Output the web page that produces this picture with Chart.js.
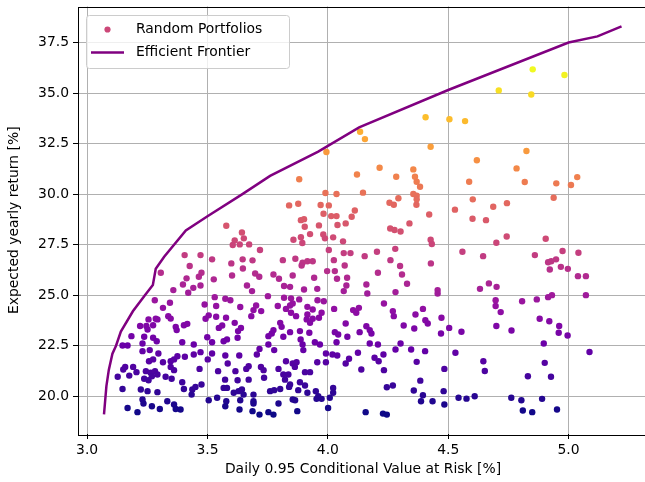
<!DOCTYPE html>
<html>
<head>
<meta charset="utf-8">
<script src="https://cdn.jsdelivr.net/npm/chart.js@4.4.1/dist/chart.umd.min.js"></script>
<style>
  html, body { margin:0; padding:0; background:#fff; overflow:hidden; }
  #wrap { width:652px; height:482px; }
</style>
</head>
<body>
<div id="wrap"><canvas id="frontierChart" width="652" height="482"></canvas></div>
<script>
// Random portfolios: daily 0.95 CVaR [%] and expected yearly return [%]
const riskPct = [
  4.851,4.983,4.710,4.845,4.406,4.505,4.570,4.134,4.154,4.427,4.825,3.994,
  3.578,3.643,3.613,3.651,3.605,3.634,3.673,3.718,3.405,3.471,
  4.215,4.121,3.881,4.284,4.355,4.362,4.369,4.383,3.990,4.036,4.146,4.355,4.369,4.369,4.368,4.293,4.256,4.274,3.839,3.877,
  3.970,4.004,4.112,3.982,4.014,4.036,4.099,3.888,3.901,3.904,3.963,4.040,4.074,4.339,4.421,4.528,4.259,4.277,4.302,3.926,
  3.981,3.988,4.022,3.888,3.857,3.894,4.063,4.427,4.432,4.004,4.066,4.094,4.204,4.280,4.153,
  4.619,4.784,4.587,4.818,4.949,5.010,5.036,4.602,4.744,4.687,4.938,4.601,4.657,4.743,4.700,4.905,4.559,4.645,4.860,4.975,5.041,
  3.306,3.519,3.426,3.475,3.464,3.413,3.526,3.398,3.441,3.471,3.420,3.358,3.530,3.281,3.344,3.315,3.488,3.536,3.337,3.347,
  3.255,3.285,3.292,3.492,3.505,3.536,3.274,3.246,3.220,3.251,3.368,3.372,3.402,3.416,3.184,3.237,3.274,3.289,3.499,3.519,
  3.395,3.443,3.147,3.168,3.230,3.547,
  3.599,3.646,3.687,3.647,3.602,3.698,3.715,3.774,3.797,3.813,
  3.865,3.895,3.891,3.915,3.937,3.854,3.943,3.997,4.025,4.029,
  4.070,4.038,4.080,4.077,4.066,3.664,3.685,3.818,3.843,3.901,
  3.956,3.751,3.574,3.595,3.818,3.847,3.881,3.854,3.957,3.983,
  3.636,3.691,3.702,3.723,3.682,3.792,3.826,3.843,3.847,3.868,
  3.915,3.937,3.915,3.912,3.937,3.926,3.974,3.963,4.026,3.577,
  3.613,3.561,3.639,3.627,3.802,3.808,3.774,3.843,3.884,3.923,
  3.581,3.625,3.567,3.753,3.767,3.815,3.887,3.895,3.753,3.946,
  3.967,4.074,4.029,4.043,4.081,4.132,4.036,4.105,4.129,4.118,
  4.260,4.300,4.308,4.208,4.428,4.329,4.160,4.164,4.281,4.456,
  4.456,4.632,4.669,4.701,4.697,4.697,4.718,4.233,4.270,4.274,
  4.364,4.395,4.405,4.415,4.472,4.315,4.359,4.504,4.470,4.555,
  4.700,4.160,4.174,4.181,4.208,4.302,4.174,
  4.915,4.928,4.948,4.922,4.968,4.997,5.039,5.072,4.807,4.868,
  4.915,4.931,5.072,4.880,4.920,4.961,4.959,4.996,4.763,4.897,
  3.230,3.260,3.296,3.257,3.274,3.315,3.347,3.361,3.375,3.406,
  3.443,3.471,3.519,3.501,3.544,3.158,3.150,3.191,3.205,3.175,
  3.127,3.244,3.264,3.282,3.237,3.255,3.269,3.292,3.326,3.351,
  3.361,3.347,3.395,3.402,3.437,3.434,3.450,3.475,3.467,3.147,
  3.223,3.251,3.292,3.230,3.234,3.269,3.302,3.333,3.361,3.368,
  3.388,3.168,3.209,3.505,3.540,
  3.574,3.632,3.705,3.716,3.777,3.898,3.992,4.019,
  4.039,4.074,4.088,4.125,4.139,3.584,3.671,3.661,3.722,3.733,
  3.616,3.795,3.826,3.854,3.870,3.863,3.956,3.992,3.905,3.926,
  3.815,3.836,3.822,3.573,3.625,3.671,3.735,3.843,3.839,3.884,
  3.905,3.877,3.802,3.760,3.777,3.567,3.581,3.609,3.629,3.643,
  3.650,3.691,3.915,3.950,3.960,3.953,3.974,4.022,4.022,4.008,
  3.854,3.864,3.636,3.691,3.578,3.574,3.795,3.633,3.687,3.691,
  3.716,3.753,3.774,3.873,4.001,
  4.281,4.346,4.404,4.194,4.211,4.231,4.233,4.369,4.484,4.530,
  4.646,4.652,4.384,4.245,4.270,4.357,4.395,4.387,4.435,4.481,
  4.484,4.543,4.576,4.610,4.157,4.229,4.245,
  5.087,4.901,4.831,4.927,4.762,4.804,4.890,4.810,4.849,4.952
];
const returnPct = [
  36.17,35.89,35.13,34.93,33.80,33.70,33.61,33.08,32.72,32.34,32.13,32.08,
  28.43,28.10,27.71,27.81,27.48,27.51,27.51,27.23,26.98,26.98,
  31.30,30.97,30.73,30.86,31.22,30.86,30.61,30.36,30.05,30.00,30.07,30.00,29.92,29.74,29.47,29.79,29.57,29.47,29.44,29.52,
  29.46,29.44,29.19,29.03,28.91,28.91,28.88,28.71,28.76,28.38,28.45,28.47,28.55,28.55,28.99,29.23,28.30,28.22,28.15,28.02,
  28.00,27.81,27.86,27.87,27.74,27.58,27.66,27.74,27.53,27.23,27.08,27.08,27.15,27.29,26.93,
  31.67,31.27,30.61,30.60,30.53,30.45,30.84,29.74,29.55,29.37,29.82,28.78,28.71,27.90,27.59,27.79,27.15,26.93,26.98,27.18,27.10,
  26.11,26.77,26.44,26.11,25.91,25.83,25.78,25.53,25.36,25.48,25.12,25.25,24.90,24.75,24.62,24.37,24.54,24.46,23.96,23.84,
  23.80,23.83,23.80,23.83,24.00,23.93,23.51,23.47,23.47,23.30,23.43,23.27,23.51,23.58,22.97,22.94,22.89,22.72,22.92,22.67,
  22.67,22.56,22.51,22.51,22.61,23.38,
  26.57,26.77,26.72,26.32,25.97,26.07,25.91,26.02,25.81,26.73,
  26.80,26.60,26.47,26.68,26.68,25.97,25.86,26.19,26.73,26.19,
  26.47,25.81,25.86,25.48,25.20,25.48,25.20,25.45,25.41,25.28,
  25.31,24.95,24.82,24.75,24.87,24.84,24.79,24.59,24.75,24.70,
  24.41,24.26,24.49,24.21,23.96,24.46,24.32,24.49,24.13,23.96,
  24.42,24.29,24.04,23.80,23.83,23.63,24.13,23.88,24.32,23.88,
  23.63,23.50,23.38,23.22,23.63,23.43,23.27,23.17,23.22,23.14,
  22.81,22.89,22.72,22.97,23.10,22.94,22.81,22.56,22.56,22.67,
  22.56,23.60,23.17,23.05,22.94,23.17,22.67,24.26,24.37,24.13,
  26.73,26.44,26.02,26.11,26.57,25.56,25.53,25.08,25.15,25.25,
  25.08,25.31,25.58,25.41,24.75,24.46,24.16,24.59,24.21,23.96,
  24.04,24.32,23.76,23.60,23.88,23.50,23.35,23.38,23.10,23.19,
  23.47,23.46,23.27,23.10,22.56,22.61,22.61,
  26.63,26.68,26.77,26.27,26.40,26.30,25.94,25.94,24.70,24.79,
  24.90,25.00,25.00,23.83,23.71,23.47,23.14,23.00,23.25,22.61,
  22.23,22.28,22.11,21.73,21.82,21.68,21.73,21.82,21.98,21.95,
  22.06,22.18,22.11,21.82,21.24,21.45,21.32,21.45,21.19,21.02,
  20.96,21.24,21.16,21.24,20.86,20.79,20.99,21.07,20.96,20.86,
  21.29,21.45,20.69,20.36,20.33,20.08,20.46,20.58,21.35,20.36,
  20.33,20.25,20.20,19.84,19.64,19.50,19.37,19.75,19.59,19.37,
  19.34,19.42,19.21,19.80,19.92,
  22.01,22.01,22.06,22.34,22.28,22.28,22.11,22.06,
  22.01,21.62,21.85,22.15,21.32,21.62,21.48,21.35,21.45,21.29,
  21.24,21.35,21.73,21.62,21.68,21.45,21.68,21.68,21.19,21.19,
  21.07,21.07,20.82,20.82,20.79,20.82,20.91,20.58,20.46,20.69,
  20.53,20.30,20.36,20.25,20.30,20.41,20.41,20.17,20.25,20.33,
  20.08,20.08,20.17,20.25,20.00,19.87,19.87,20.41,20.17,19.92,
  19.84,19.80,19.80,19.75,19.75,19.50,19.64,19.34,19.26,19.64,
  19.09,19.21,19.09,19.26,19.42,
  22.31,22.31,22.23,21.90,21.73,22.06,21.29,21.70,21.35,22.15,
  21.73,21.25,20.77,20.44,20.53,20.28,20.05,19.75,19.75,20.25,
  19.59,19.92,19.88,20.00,19.21,19.14,19.09,
  22.19,21.65,20.99,20.96,19.92,19.80,19.87,19.29,19.21,19.34
];

// Efficient frontier
const frontierRisk   = [3.070,3.075,3.080,3.090,3.105,3.120,3.140,3.190,3.240,3.273,3.285,3.320,3.410,3.500,3.645,3.760,3.960,4.130,4.500,5.000,5.120,5.220];
const frontierReturn = [19.10,19.80,20.50,21.30,22.10,22.50,23.20,24.20,25.00,25.50,26.30,26.90,28.20,28.90,30.00,30.90,32.10,33.30,35.15,37.50,37.80,38.30];

const xTicks = [3.0, 3.5, 4.0, 4.5, 5.0];
const yTicks = [20.0, 22.5, 25.0, 27.5, 30.0, 32.5, 35.0, 37.5];

// plasma colormap
const plasmaStops = ['#0d0887','#41049d','#6a00a8','#8f0da4','#b12a90','#cc4778','#e16462','#f2844b','#fca636','#fcce25','#f0f921'];
function hexRgb(h){ return [1,3,5].map(i=>parseInt(h.substr(i,2),16)); }
function plasma(t){
  t = Math.max(0, Math.min(1, t)) * (plasmaStops.length-1);
  const i = Math.min(Math.floor(t), plasmaStops.length-2);
  const f = t - i;
  const a = hexRgb(plasmaStops[i]), b = hexRgb(plasmaStops[i+1]);
  const c = a.map((v,k)=>Math.round(v + (b[k]-v)*f));
  return 'rgb(' + c.join(',') + ')';
}

const n = Math.min(riskPct.length, returnPct.length);
const pts = [];
for (let i=0;i<n;i++) pts.push({x: riskPct[i], y: returnPct[i]});
const rMin = Math.min(...returnPct), rMax = Math.max(...returnPct);
const ptColors = pts.map(p=>plasma((p.y - rMin)/(rMax - rMin)));
const frontier = frontierRisk.map((x,i)=>({x, y: frontierReturn[i]}));

const FONT = 'DejaVu Sans';
const FS = 13.9;

// axes frame + legend inside plot (matplotlib style)
const mplFrame = {
  id: 'mplFrame',
  afterDatasetsDraw(chart){
    const {ctx, chartArea: a} = chart;
    ctx.save();
    ctx.strokeStyle = '#000';
    ctx.lineWidth = 1;
    ctx.strokeRect(Math.round(a.left)+0.5, Math.round(a.top)+0.5, Math.round(a.right-a.left), Math.round(a.bottom-a.top));
    ctx.restore();
  },
  afterDraw(chart){
    const {ctx, chartArea: a} = chart;
    const ds = chart.data.datasets;
    const x = Math.round(a.left) + 8, y = Math.round(a.top) + 8, w = 203, h = 53;
    ctx.save();
    ctx.fillStyle = 'rgba(255,255,255,0.8)';
    ctx.strokeStyle = '#cccccc';
    ctx.lineWidth = 1;
    ctx.beginPath();
    ctx.roundRect(x+0.5, y+0.5, w, h, 3);
    ctx.fill(); ctx.stroke();
    ctx.font = FS + 'px "' + FONT + '"';
    ctx.fillStyle = '#000';
    ctx.textBaseline = 'middle';
    // scatter entry
    ctx.beginPath();
    ctx.arc(x + 21.5, y + 14.5, 3.1, 0, Math.PI*2);
    ctx.fillStyle = '#cc4778';
    ctx.fill();
    ctx.fillStyle = '#000';
    ctx.fillText(ds[0].label, x + 50, y + 14.5);
    // line entry
    ctx.beginPath();
    ctx.moveTo(x + 5, y + 37.5);
    ctx.lineTo(x + 38, y + 37.5);
    ctx.strokeStyle = ds[1].borderColor;
    ctx.lineWidth = 2.5;
    ctx.stroke();
    ctx.fillText(ds[1].label, x + 50, y + 37.5);
    ctx.restore();
  }
};

const ctx = document.getElementById('frontierChart').getContext('2d');
new Chart(ctx, {
  type: 'scatter',
  data: {
    datasets: [
      {
        label: 'Random Portfolios',
        data: pts,
        backgroundColor: ptColors,
        borderColor: ptColors,
        borderWidth: 0,
        pointRadius: 3.2,
        order: 2
      },
      {
        label: 'Efficient Frontier',
        data: frontier,
        showLine: true,
        borderColor: '#800080',
        borderWidth: 2.5,
        pointRadius: 0,
        tension: 0,
        fill: false,
        order: 1
      }
    ]
  },
  options: {
    responsive: false,
    animation: false,
    devicePixelRatio: 1,
    layout: { padding: { top: 6.5, right: 2, left: 0, bottom: 0 } },
    plugins: { legend: { display: false }, tooltip: { enabled: false } },
    scales: {
      x: {
        type: 'linear',
        min: 2.962, max: 5.33,
        afterBuildTicks: s => { s.ticks = xTicks.map(v=>({value:v})); },
        afterFit: s => { s.height = 48; s.paddingLeft = 0; s.paddingRight = 0; },
        ticks: { callback: v => v.toFixed(1), color: '#000', font: { family: FONT, size: FS }, padding: 3, maxRotation: 0 },
        grid: { color: '#b0b0b0', lineWidth: 1, tickColor: '#000', tickLength: 5, tickWidth: 1 },
        border: { display: false },
        title: { display: true, text: 'Daily 0.95 Conditional Value at Risk [%]', color: '#000', font: { family: FONT, size: FS }, padding: { top: 0, bottom: 4 } }
      },
      y: {
        type: 'linear',
        min: 18.13, max: 39.28,
        afterBuildTicks: s => { s.ticks = yTicks.map(v=>({value:v})); },
        afterFit: s => { s.width = 78; s.paddingTop = 0; s.paddingBottom = 0; },
        ticks: { callback: v => v.toFixed(1), color: '#000', font: { family: FONT, size: FS }, padding: 4 },
        grid: { color: '#b0b0b0', lineWidth: 1, tickColor: '#000', tickLength: 5, tickWidth: 1 },
        border: { display: false },
        title: { display: true, text: 'Expected yearly return [%]', color: '#000', font: { family: FONT, size: FS }, padding: { top: 6, bottom: 0 } }
      }
    }
  },
  plugins: [mplFrame]
});
</script>
</body>
</html>
